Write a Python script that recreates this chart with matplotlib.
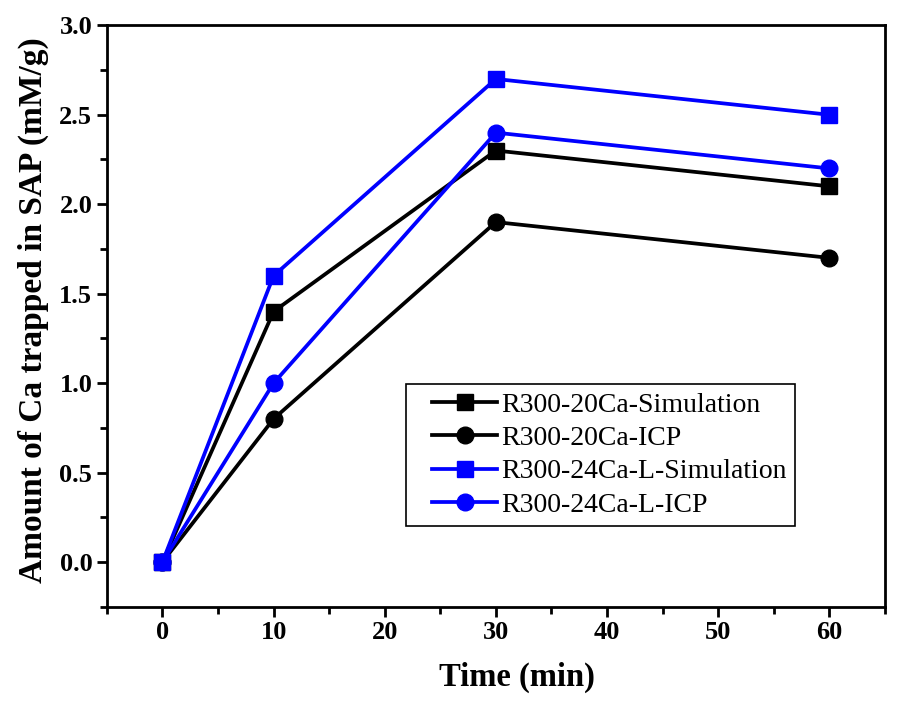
import matplotlib
matplotlib.use('Agg')
import matplotlib.pyplot as plt
from matplotlib.ticker import MultipleLocator
from matplotlib.legend_handler import HandlerLine2D
from matplotlib.lines import Line2D

plt.rcParams['font.family'] = ['Liberation Serif', 'DejaVu Serif']

time = [0, 10, 30, 60]
ca20_sim = [0, 1.4, 2.3, 2.1]
ca20_icp = [0, 0.8, 1.9, 1.7]
ca24_sim = [0, 1.6, 2.7, 2.5]
ca24_icp = [0, 1.0, 2.4, 2.2]

fig = plt.figure(figsize=(9.14, 7.03), dpi=100)
ax = fig.add_axes([0.117, 0.137, 0.851, 0.827])

ax.plot(time, ca20_sim, '-s', color='black', lw=2.7, ms=11, label='R300-20Ca-Simulation')
ax.plot(time, ca20_icp, '-o', color='black', lw=2.7, ms=12, label='R300-20Ca-ICP')
ax.plot(time, ca24_sim, '-s', color='blue', lw=2.7, ms=11, label='R300-24Ca-L-Simulation')
ax.plot(time, ca24_icp, '-o', color='blue', lw=2.7, ms=12, label='R300-24Ca-L-ICP')

ax.set_xlim(-5, 65)
ax.set_ylim(-0.25, 3.0)
ax.xaxis.set_major_locator(MultipleLocator(10))
ax.xaxis.set_minor_locator(MultipleLocator(5))
ax.yaxis.set_major_locator(MultipleLocator(0.5))
ax.yaxis.set_minor_locator(MultipleLocator(0.25))
ax.yaxis.set_major_formatter(matplotlib.ticker.FormatStrFormatter('%.1f'))

for s in ax.spines.values():
	s.set_linewidth(2)
ax.tick_params(which='major', direction='out', length=7, width=2, labelsize=19, top=False, right=False)
ax.tick_params(which='minor', direction='out', length=5, width=2, top=False, right=False)
for lab in ax.get_xticklabels() + ax.get_yticklabels():
	lab.set_fontweight('bold')

ax.set_xlabel('Time (min)', fontsize=23.5, fontweight='bold')
ax.set_ylabel('Amount of Ca trapped in SAP (mM/g)', fontsize=24, fontweight='bold')
ax.xaxis.set_label_coords(0.527, -0.095)
ax.yaxis.set_label_coords(-0.074, 0.51)

# line in legend starts a bit in from the left of its handle box
leg = ax.legend(loc='lower left', bbox_to_anchor=(0.384, 0.139), borderaxespad=0, fontsize=20,
	fancybox=False, edgecolor='black', framealpha=1, handlelength=3.0, handletextpad=0.15,
	labelspacing=0.28, borderpad=0.3, handler_map={Line2D: HandlerLine2D(xpad=0.65)})
leg.get_frame().set_linewidth(1.2)

fig.savefig('out.png', dpi=100)
